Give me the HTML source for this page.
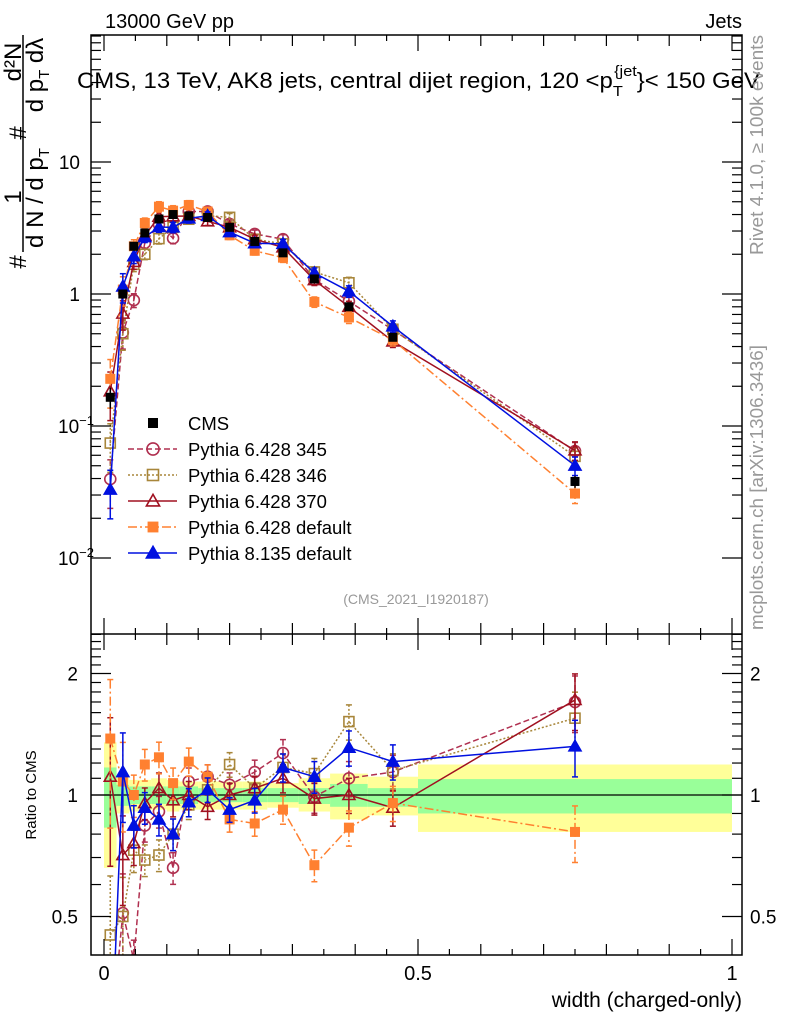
<!DOCTYPE html>
<html><head><meta charset="utf-8"><style>
html,body{margin:0;padding:0;background:#fff;width:786px;height:1024px;overflow:hidden;}
svg{display:block;font-family:"Liberation Sans",sans-serif;}
</style></head><body>
<svg id="chart" width="786" height="1024" viewBox="0 0 786 1024" xmlns="http://www.w3.org/2000/svg">
<defs>
<clipPath id="clipMain"><rect x="91" y="35" width="651" height="599"/></clipPath>
<clipPath id="clipRatio"><rect x="91" y="634" width="651" height="321"/></clipPath>
</defs>
<g id="bands" clip-path="url(#clipRatio)"></g>
<g id="mainMarks" clip-path="url(#clipMain)"></g>
<g id="ratioMarks" clip-path="url(#clipRatio)"></g>
<g id="axes"></g>
<g id="legend"></g>
<text x="105" y="28" font-size="20">13000 GeV pp</text>
<text x="742" y="28" font-size="20" text-anchor="end">Jets</text>
<text x="77" y="88" font-size="22" textLength="683" lengthAdjust="spacingAndGlyphs">CMS, 13 TeV, AK8 jets, central dijet region, 120 &lt;p<tspan font-size="15" dy="8">T</tspan><tspan font-size="15" dy="-20" dx="-8">{jet</tspan><tspan dy="12">}&lt; 150 GeV</tspan></text>
<text x="416" y="604" font-size="14" fill="#999" text-anchor="middle">(CMS_2021_I1920187)</text>
<text transform="translate(763,255) rotate(-90)" font-size="18" fill="#999" textLength="220" lengthAdjust="spacingAndGlyphs">Rivet 4.1.0, ≥ 100k events</text>
<text transform="translate(763,630) rotate(-90)" font-size="18" fill="#999" textLength="285" lengthAdjust="spacingAndGlyphs">mcplots.cern.ch [arXiv:1306.3436]</text>
<g font-size="24">
<text transform="translate(21,62) rotate(-90)" text-anchor="middle">d²N</text>
<text transform="translate(21,197) rotate(-90)" text-anchor="middle">1</text>
<line x1="23" y1="35" x2="23" y2="252" stroke="#000" stroke-width="1.5"/>
<text transform="translate(43,75) rotate(-90)" text-anchor="middle">d p<tspan font-size="15" dy="6">T</tspan><tspan dy="-6">  dλ</tspan></text>
<text transform="translate(43,198) rotate(-90)" text-anchor="middle">d N / d p<tspan font-size="15" dy="6">T</tspan></text>
<text transform="translate(26,262) rotate(-90)" text-anchor="middle">#</text>
<text transform="translate(26,133) rotate(-90)" text-anchor="middle">#</text>
</g>
<text transform="translate(36,795) rotate(-90)" font-size="15" text-anchor="middle">Ratio to CMS</text>
<text x="742" y="1007" font-size="21" text-anchor="end">width (charged-only)</text>
</svg>
<script>
// ---- data ----
const binEdges = [0,0.02,0.04,0.055,0.075,0.1,0.12,0.15,0.18,0.22,0.26,0.31,0.36,0.42,0.5,1.0];
const cmsValues = [0.165,1.0,2.3,2.9,3.7,4.0,3.9,3.8,3.2,2.5,2.05,1.3,0.8,0.47,0.038];
const cmsErr = [0.03,0.08,0.1,0.1,0.12,0.12,0.12,0.1,0.1,0.08,0.07,0.05,0.04,0.03,0.004];
const bandGreenUp = [1.17,1.06,1.05,1.05,1.05,1.05,1.05,1.04,1.04,1.04,1.04,1.04,1.065,1.04,1.095];
const bandGreenDn = [0.83,0.94,0.95,0.95,0.95,0.95,0.95,0.96,0.96,0.96,0.96,0.95,0.935,0.935,0.90];
const bandYellowUp = [1.35,1.12,1.09,1.09,1.10,1.09,1.08,1.08,1.08,1.08,1.07,1.10,1.13,1.11,1.19];
const bandYellowDn = [0.66,0.90,0.91,0.91,0.92,0.91,0.92,0.92,0.92,0.92,0.93,0.91,0.87,0.89,0.81];
const ratio345 = [0.24,0.51,0.39,0.84,0.91,0.66,1.08,1.11,1.06,1.14,1.27,0.99,1.10,1.14,1.70];
const ratio346 = [0.45,0.50,0.73,0.69,0.71,0.80,0.945,1.03,1.19,1.04,1.17,1.13,1.52,1.15,1.55];
const ratio370 = [1.11,0.71,0.76,0.955,1.04,0.97,1.0,0.935,1.0,1.04,1.10,0.98,1.0,0.93,1.72];
const ratio6def = [1.38,1.08,1.0,1.19,1.24,1.07,1.21,1.11,0.87,0.85,0.92,0.67,0.83,0.955,0.81];
const ratio8def = [0.20,1.14,0.84,0.93,0.87,0.80,0.96,1.03,0.92,0.97,1.17,1.11,1.31,1.21,1.32];
const mcRelErr = [0.4,0.25,0.12,0.09,0.09,0.09,0.08,0.07,0.07,0.07,0.08,0.09,0.1,0.1,0.16];
const seriesNames = ["Pythia 6.428 345","Pythia 6.428 346","Pythia 6.428 370","Pythia 6.428 default","Pythia 8.135 default"];
const mainYTicks = [10,1,0.1,0.01];
const mainYTickLabels = ["10","1","10","10"];
const mainYTickExp = ["","","−1","−2"];
const ratioYTicks = [2,1,0.5];
const ratioYTickLabels = ["2","1","0.5"];
const xTicks = [0,0.5,1];
const xTickLabels = ["0","0.5","1"];

// ---- scales ----
const NS="http://www.w3.org/2000/svg";
const L=91,R=742,T=35,M=634,B=955;
function xs(v){return 104+628*v;}
function ym(v){return 294-132*Math.log10(v);}
function yr(v){return 795-121.5*Math.log2(v);}
function mk(tag,attrs,parent){const e=document.createElementNS(NS,tag);for(const k in attrs)e.setAttribute(k,attrs[k]);parent.appendChild(e);return e;}

const styles=[
 {color:"#b03050",dash:"6,3",marker:"circle",fill:false},
 {color:"#a8863a",dash:"2,2",marker:"square",fill:false},
 {color:"#a01020",dash:"",marker:"triangle",fill:false},
 {color:"#ff8030",dash:"9,3,2,3",marker:"square",fill:true},
 {color:"#0010e0",dash:"",marker:"triangle",fill:true}
];
const ratios=[ratio345,ratio346,ratio370,ratio6def,ratio8def];
const centers=[];for(let i=0;i<binEdges.length-1;i++)centers.push((binEdges[i]+binEdges[i+1])/2);

function marker(g,type,fill,color,x,y,s){
  let e;
  const common={stroke:color,"stroke-width":1.6,fill:fill?color:"none"};
  if(type==="circle"){e=mk("circle",Object.assign({cx:x,cy:y,r:s*0.55},common),g);}
  else if(type==="square"){const h=fill?s*0.42:s*0.5;e=mk("rect",Object.assign({x:x-h,y:y-h,width:2*h,height:2*h},common),g);}
  else {const h=s*0.6;e=mk("polygon",Object.assign({points:`${x},${y-h} ${x-h},${y+h*0.75} ${x+h},${y+h*0.75}`},common),g);}
  return e;
}

// bands
const bands=document.getElementById('bands');
for(let i=0;i<cmsValues.length;i++){
  const x0=xs(binEdges[i]),x1=xs(binEdges[i+1]);
  const ry=mk("rect",{x:x0,y:yr(bandYellowUp[i]),width:x1-x0,height:yr(bandYellowDn[i])-yr(bandYellowUp[i]),fill:"#ffff99"},bands);
  
  
  const rg=mk("rect",{x:x0,y:yr(bandGreenUp[i]),width:x1-x0,height:yr(bandGreenDn[i])-yr(bandGreenUp[i]),fill:"#99ff99"},bands);
  
  
}
const oneLine=mk("line",{x1:L,x2:R,y1:yr(1),y2:yr(1),stroke:"#000","stroke-width":1.2},bands);



// series
const mainG=document.getElementById('mainMarks'),ratG=document.getElementById('ratioMarks');
ratios.forEach((rv,s)=>{
  const st=styles[s];
  const gm=mk("g",{},mainG);
  
  
  const gr=mk("g",{},ratG);
  
  
  const ptsM=[],ptsR=[];
  rv.forEach((r,i)=>{ptsM.push(xs(centers[i])+","+ym(r*cmsValues[i]));ptsR.push(xs(centers[i])+","+yr(r));});
  const lm=mk("polyline",{points:ptsM.join(" "),fill:"none",stroke:st.color,"stroke-width":1.5,"stroke-dasharray":st.dash},gm);
  
  
  const lr=mk("polyline",{points:ptsR.join(" "),fill:"none",stroke:st.color,"stroke-width":1.5,"stroke-dasharray":st.dash},gr);
  
  
  rv.forEach((r,i)=>{
    const x=xs(centers[i]);const v=r*cmsValues[i];const e=mcRelErr[i];
    [[gm,ym,v],[gr,yr,r]].forEach(([g,f,val])=>{
      const y1=f(val*(1+e)),y2=f(Math.max(val*(1-e),1e-4));
      const eb=mk("line",{x1:x,x2:x,y1:y1,y2:y2,stroke:st.color,"stroke-width":1.5,"stroke-dasharray":st.dash},g);
      
      
      mk("line",{x1:x-3,x2:x+3,y1:y1,y2:y1,stroke:st.color,"stroke-width":1.5},g);
      mk("line",{x1:x-3,x2:x+3,y1:y2,y2:y2,stroke:st.color,"stroke-width":1.5},g);
      const m=marker(g,st.marker,st.fill,st.color,x,f(val),10);
      
      
    });
  });
});
// CMS data in main
const cg=mk("g",{},mainG);


cmsValues.forEach((v,i)=>{
  const x=xs(centers[i]);
  mk("line",{x1:x,x2:x,y1:ym(v+cmsErr[i]),y2:ym(v-cmsErr[i]),stroke:"#000","stroke-width":1.5},cg);
  const p=mk("rect",{x:x-4.5,y:ym(v)-4.5,width:9,height:9,fill:"#000"},cg);
  
  
});

// axes
const ax=document.getElementById('axes');
mk("rect",{x:L,y:T,width:R-L,height:B-T,fill:"none",stroke:"#000","stroke-width":1.5},ax);
mk("line",{x1:L,x2:R,y1:M,y2:M,stroke:"#000","stroke-width":1.5},ax);
for(let d=-2;d<=1;d++){for(let k=1;k<10;k++){const v=k*Math.pow(10,d);const y=ym(v);if(y<T||y>M)continue;const len=k===1?20:10;
  mk("line",{x1:L,x2:L+len,y1:y,y2:y,stroke:"#000","stroke-width":1.2},ax);
  mk("line",{x1:R,x2:R-len,y1:y,y2:y,stroke:"#000","stroke-width":1.2},ax);}}
mainYTicks.forEach((v,i)=>{
  const t=mk("text",{x:mainYTickExp[i]?58:80,y:ym(v)+7,"font-size":19,"text-anchor":mainYTickExp[i]?"start":"end"},ax);
  t.textContent=mainYTickLabels[i];
  
  
  if(mainYTickExp[i]){const ts=mk("tspan",{"font-size":13,dy:-8},t);ts.textContent=mainYTickExp[i];}
});
[0.5,0.6,0.7,0.8,0.9,1,1.1,1.2,1.3,1.4,1.5,1.6,1.7,1.8,1.9,2,2.1,2.2,2.3,2.4,2.5].forEach(v=>{
  const y=yr(v);if(y<M||y>B)return;const len=(v===0.5||v===1||v===2)?20:10;
  mk("line",{x1:L,x2:L+len,y1:y,y2:y,stroke:"#000","stroke-width":1.2},ax);
  mk("line",{x1:R,x2:R-len,y1:y,y2:y,stroke:"#000","stroke-width":1.2},ax);
});
ratioYTicks.forEach((v,i)=>{
  const t=mk("text",{x:78,y:yr(v)+7,"font-size":19,"text-anchor":"end"},ax);t.textContent=ratioYTickLabels[i];
  
  
  const t2=mk("text",{x:750,y:yr(v)+7,"font-size":19},ax);t2.textContent=ratioYTickLabels[i];
  
  
});
for(let k=0;k<=20;k++){const v=k*0.05;const x=xs(v);const len=(k%10===0)?16:(k%2===0?11:6);
  [[T,1],[M,-1],[M,1],[B,-1]].forEach(([y0,dir])=>{mk("line",{x1:x,x2:x,y1:y0,y2:y0+dir*len,stroke:"#000","stroke-width":1.2},ax);});}
xTicks.forEach((v,i)=>{const t=mk("text",{x:xs(v),y:980,"font-size":20,"text-anchor":"middle"},ax);t.textContent=xTickLabels[i];
  
  });

// legend
const lg=document.getElementById('legend');
const cmsE=mk("g",{},lg);


mk("rect",{x:148,y:418,width:10,height:10,fill:"#000"},cmsE);
const ct=mk("text",{x:188,y:430,"font-size":18.5},cmsE);ct.textContent="CMS";
seriesNames.forEach((n,s)=>{
  const st=styles[s];const y=449+26*s;
  const g=mk("g",{},lg);
  
  
  mk("line",{x1:128,x2:177,y1:y,y2:y,stroke:st.color,"stroke-width":1.5,"stroke-dasharray":st.dash},g);
  marker(g,st.marker,st.fill,st.color,153,y,11);
  const t=mk("text",{x:188,y:y+7,"font-size":18.5},g);t.textContent=n;
});
</script>
</body></html>
